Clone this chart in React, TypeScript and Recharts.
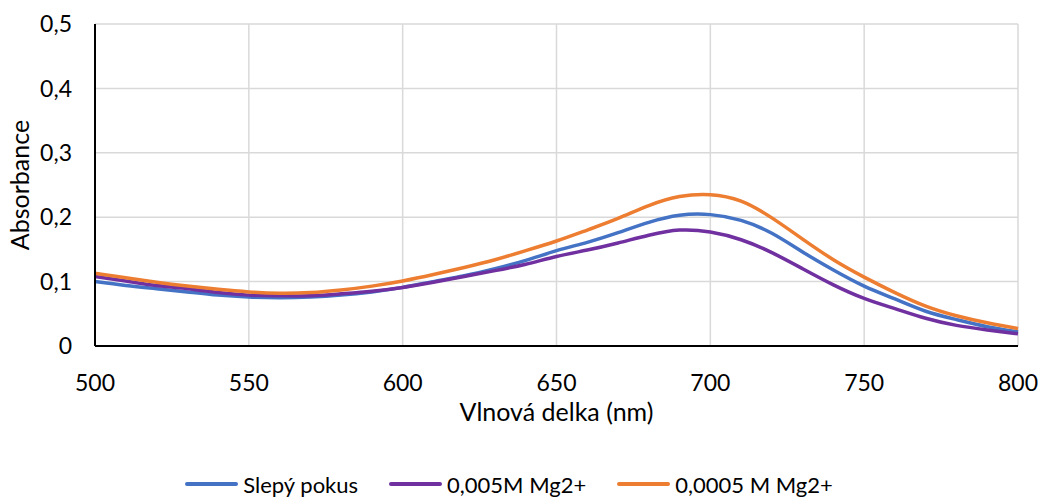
import React from 'react';
import {
  LineChart,
  Line,
  XAxis,
  YAxis,
  CartesianGrid,
  Legend,
} from 'recharts';

const FONT = 'Lato, "Noto Sans", sans-serif';

const wavelengths = [
  500, 510, 520, 530, 540, 550, 560, 570, 580, 590,
  600, 610, 620, 630, 640, 650, 660, 670, 680, 690,
  700, 710, 720, 730, 740, 750, 760, 770, 780, 790, 800,
];

// Slepý pokus
const blank = [
  0.100, 0.094, 0.089, 0.084, 0.079, 0.076, 0.075, 0.076, 0.079, 0.084,
  0.091, 0.100, 0.109, 0.120, 0.133, 0.148, 0.161, 0.176, 0.192, 0.203,
  0.204, 0.195, 0.175, 0.146, 0.118, 0.093, 0.073, 0.054, 0.041, 0.030, 0.022,
];

// 0,005M Mg2+
const mg005 = [
  0.108, 0.101, 0.094, 0.089, 0.083, 0.079, 0.078, 0.078, 0.081, 0.085,
  0.091, 0.099, 0.108, 0.117, 0.127, 0.139, 0.149, 0.160, 0.172, 0.180,
  0.177, 0.165, 0.145, 0.120, 0.095, 0.074, 0.058, 0.043, 0.032, 0.025, 0.019,
];

// 0,0005 M Mg2+
const mg0005 = [
  0.113, 0.106, 0.099, 0.093, 0.088, 0.084, 0.082, 0.083, 0.087, 0.093,
  0.101, 0.111, 0.122, 0.134, 0.148, 0.163, 0.180, 0.198, 0.218, 0.232,
  0.235, 0.225, 0.199, 0.166, 0.134, 0.107, 0.083, 0.062, 0.047, 0.036, 0.027,
];

const xTicks = [500, 550, 600, 650, 700, 750, 800];
const yTicks = [0, 0.1, 0.2, 0.3, 0.4, 0.5];

const SERIES = [
  { key: 'blank', name: 'Slepý pokus', color: '#4472C4' },
  { key: 'mg005', name: '0,005M Mg2+', color: '#7030A0' },
  { key: 'mg0005', name: '0,0005 M Mg2+', color: '#ED7D31' },
];

const data = wavelengths.map((w, i) => ({
  w,
  blank: blank[i],
  mg005: mg005[i],
  mg0005: mg0005[i],
}));

const fmtY = (v: number) => (v === 0 ? '0' : v.toFixed(1).replace('.', ','));

function LegendRow() {
  return (
    <div
      style={{
        display: 'flex',
        justifyContent: 'center',
        alignItems: 'center',
        height: 28,
        gap: 31,
        fontFamily: FONT,
        fontSize: 22,
        color: '#000',
      }}
    >
      {SERIES.map((s) => (
        <div key={s.key} style={{ display: 'flex', alignItems: 'center', gap: 5 }}>
          <div style={{ width: 53, height: 4, background: s.color, borderRadius: 2 }} />
          <span>{s.name}</span>
        </div>
      ))}
    </div>
  );
}

export default function App() {
  return (
    <div style={{ position: 'absolute', left: 0, top: 0, width: 1038, height: 498, background: '#fff' }}>
      <LineChart
        width={1038}
        height={498}
        data={data}
        margin={{ top: 24, right: 20, left: 0, bottom: 0 }}
        style={{ fontFamily: FONT }}
      >
        <CartesianGrid stroke="#d9d9d9" strokeWidth={1.5} />
        <XAxis
          dataKey="w"
          type="number"
          domain={[500, 800]}
          ticks={xTicks}
          height={124}
          tickSize={0}
          tickMargin={29}
          axisLine={{ stroke: '#000', strokeWidth: 2 }}
          tick={{ fill: '#000', fontSize: 23 }}
          label={{
            value: 'Vlnová delka (nm)',
            position: 'insideBottom',
            offset: 49,
            style: { fill: '#000', fontSize: 25 },
          }}
        />
        <YAxis
          type="number"
          domain={[0, 0.5]}
          ticks={yTicks}
          width={95}
          tickSize={0}
          tickMargin={23}
          tickFormatter={fmtY}
          axisLine={{ stroke: '#000', strokeWidth: 2 }}
          tick={{ fill: '#000', fontSize: 23 }}
          label={{
            value: 'Absorbance',
            angle: -90,
            position: 'insideLeft',
            offset: 20,
            style: { textAnchor: 'middle', fill: '#000', fontSize: 25 },
          }}
        />
        <Legend verticalAlign="bottom" content={() => <LegendRow />} />
        {SERIES.map((s) => (
          <Line
            key={s.key}
            type="natural"
            dataKey={s.key}
            name={s.name}
            stroke={s.color}
            strokeWidth={3.5}
            dot={false}
            isAnimationActive={false}
          />
        ))}
      </LineChart>
    </div>
  );
}
